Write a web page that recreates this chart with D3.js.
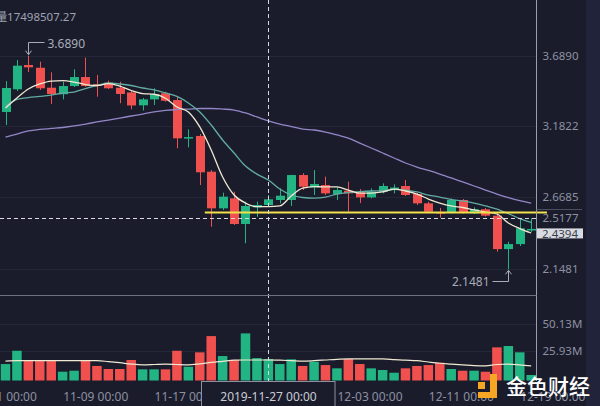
<!DOCTYPE html>
<html>
<head>
<meta charset="utf-8">
<script src="https://cdn.jsdelivr.net/npm/d3@7"></script>
<style>
  html, body { margin: 0; padding: 0; background: #1a1c2b; }
  svg { display: block; font-family: "Noto Sans", "Open Sans", sans-serif; }
</style>
</head>
<body>
<svg id="chart"></svg>
<script>
const width = 600
const height = 406

// daily candles, 2019-11-04 .. 2019-12-20
const dates = [
  '2019-11-04', '2019-11-05', '2019-11-06', '2019-11-07', '2019-11-08', '2019-11-09', '2019-11-10',
  '2019-11-11', '2019-11-12', '2019-11-13', '2019-11-14', '2019-11-15', '2019-11-16', '2019-11-17',
  '2019-11-18', '2019-11-19', '2019-11-20', '2019-11-21', '2019-11-22', '2019-11-23', '2019-11-24',
  '2019-11-25', '2019-11-26', '2019-11-27', '2019-11-28', '2019-11-29', '2019-11-30', '2019-12-01',
  '2019-12-02', '2019-12-03', '2019-12-04', '2019-12-05', '2019-12-06', '2019-12-07', '2019-12-08',
  '2019-12-09', '2019-12-10', '2019-12-11', '2019-12-12', '2019-12-13', '2019-12-14', '2019-12-15',
  '2019-12-16', '2019-12-17', '2019-12-18', '2019-12-19', '2019-12-20',
]
const open = [
  3.283, 3.447, 3.622, 3.602, 3.458, 3.411, 3.470, 3.535, 3.483, 3.494,
  3.458, 3.424, 3.331, 3.374, 3.418, 3.369, 3.092, 3.110, 2.852, 2.588,
  2.660, 2.475, 2.595, 2.612, 2.648, 2.648, 2.828, 2.740, 2.756, 2.691,
  2.715, 2.703, 2.667, 2.708, 2.729, 2.749, 2.691, 2.624, 2.561, 2.559,
  2.648, 2.552, 2.581, 2.535, 2.294, 2.330, 2.428,
]
const high = [
  3.506, 3.658, 3.689, 3.646, 3.569, 3.501, 3.591, 3.675, 3.550, 3.509,
  3.501, 3.442, 3.384, 3.454, 3.429, 3.393, 3.158, 3.124, 2.864, 2.701,
  2.708, 2.636, 2.636, 2.684, 2.732, 2.830, 2.841, 2.864, 2.816, 2.739,
  2.780, 2.727, 2.732, 2.768, 2.761, 2.792, 2.698, 2.636, 2.590, 2.659,
  2.655, 2.595, 2.590, 2.552, 2.347, 2.516, 2.516,
]
const low = [
  3.189, 3.434, 3.571, 3.442, 3.341, 3.374, 3.463, 3.465, 3.393, 3.449,
  3.346, 3.302, 3.294, 3.333, 3.357, 3.021, 3.028, 2.756, 2.455, 2.576,
  2.468, 2.336, 2.527, 2.601, 2.624, 2.605, 2.720, 2.684, 2.684, 2.648,
  2.564, 2.626, 2.660, 2.696, 2.696, 2.677, 2.612, 2.556, 2.520, 2.551,
  2.551, 2.547, 2.529, 2.275, 2.1481, 2.316, 2.417,
]
const close = [
  3.456, 3.617, 3.605, 3.454, 3.413, 3.470, 3.535, 3.470, 3.473, 3.454,
  3.413, 3.330, 3.374, 3.411, 3.364, 3.093, 3.102, 2.848, 2.588, 2.672,
  2.475, 2.605, 2.612, 2.653, 2.679, 2.828, 2.744, 2.763, 2.696, 2.720,
  2.696, 2.667, 2.708, 2.749, 2.738, 2.684, 2.624, 2.564, 2.554, 2.648,
  2.559, 2.581, 2.535, 2.294, 2.330, 2.444, 2.4394,
]
// volume in millions
const volume = [
  14.6, 26.4, 17.3, 18.2, 18.2, 7.8, 8.7, 17.3, 12.9, 10.2,
  10.2, 18.2, 9.9, 9.9, 9.9, 26.4, 12.2, 25.0, 39.4, 21.7,
  18.2, 41.8, 19.9, 19.1, 14.6, 18.8, 12.9, 16.7, 13.7, 10.8,
  19.1, 14.6, 10.8, 9.3, 6.9, 10.8, 12.9, 13.7, 15.8, 10.2,
  8.7, 8.7, 7.8, 29.4, 30.6, 25.0, 4.9,
]
// moving averages
const ma5 = [
  3.312, 3.384, 3.449, 3.485, 3.506, 3.509, 3.499, 3.481, 3.474, 3.488,
  3.470, 3.438, 3.416, 3.411, 3.382, 3.319, 3.283, 3.175, 3.009, 2.814,
  2.684, 2.626, 2.600, 2.600, 2.605, 2.677, 2.734, 2.745, 2.742, 2.742,
  2.720, 2.698, 2.698, 2.706, 2.727, 2.713, 2.691, 2.655, 2.626, 2.605,
  2.594, 2.576, 2.561, 2.547, 2.482, 2.442, 2.410,
]
const ma10 = [
  3.326, 3.373, 3.387, 3.395, 3.405, 3.420, 3.427, 3.452, 3.474, 3.492,
  3.485, 3.474, 3.456, 3.442, 3.420, 3.395, 3.348, 3.283, 3.189, 3.081,
  2.987, 2.893, 2.835, 2.792, 2.727, 2.684, 2.666, 2.662, 2.669, 2.691,
  2.702, 2.708, 2.713, 2.716, 2.724, 2.720, 2.706, 2.684, 2.669, 2.651,
  2.641, 2.626, 2.605, 2.583, 2.550, 2.514, 2.486,
]
const ma30 = [
  3.102, 3.124, 3.146, 3.157, 3.164, 3.171, 3.182, 3.196, 3.211, 3.225,
  3.239, 3.254, 3.268, 3.283, 3.294, 3.301, 3.304, 3.308, 3.308, 3.304,
  3.297, 3.276, 3.247, 3.218, 3.196, 3.178, 3.160, 3.153, 3.138, 3.117,
  3.095, 3.059, 3.023, 2.987, 2.951, 2.915, 2.886, 2.861, 2.835, 2.807,
  2.778, 2.749, 2.720, 2.691, 2.666, 2.644, 2.626,
]
const volMa = [
  17.2, 17.6, 17.6, 17.6, 17.6, 17.6, 17.6, 17.6, 17.6, 16.8,
  15.8, 14.6, 13.9, 14.2, 14.6, 14.2, 13.9, 14.8, 16.0, 17.0,
  18.0, 18.2, 18.2, 18.2, 18.0, 17.6, 17.2, 17.6, 18.2, 18.8,
  19.1, 19.1, 19.1, 19.1, 18.6, 18.0, 17.6, 16.4, 15.3, 14.6,
  13.9, 13.2, 12.9, 14.2, 14.6, 13.9, 12.9,
]

const priceTicks = [3.689, 3.1822, 2.6685, 2.1481]
const volTicks = [50.13, 25.93]
// 11-25 sits under the crosshair date tag, so it is not drawn
const dateTicks = ['2019-11-01', '2019-11-09', '2019-11-17', '2019-12-03', '2019-12-11', '2019-12-19']
const crossDate = '2019-11-27'
const crossPrice = 2.5177
const lastPrice = 2.4394
const yellowLevel = 2.558
const yellowFrom = '2019-11-21'
const maxMark = { date: '2019-11-06', value: 3.689 }
const minMark = { date: '2019-12-18', value: 2.1481 }
const headText = '量17498507.27'

const colors = {
  bg: '#1a1c2b',
  up: '#22b583',
  down: '#f0514f',
  ma5: '#efe9d2',
  ma10: '#62aca3',
  ma30: '#9386c6',
  text: '#8d91a2',
  grid: '#242737',
  border: '#6d7182',
}
const fontSize = 11.5

const parse = d3.timeParse('%Y-%m-%d')
const fmtDay = d3.timeFormat('%m-%d 00:00')
const fmtFull = d3.timeFormat('%Y-%m-%d 00:00')

const rows = dates.map((d, i) => ({
  date: parse(d), o: open[i], h: high[i], l: low[i], c: close[i],
  v: volume[i], ma5: ma5[i], ma10: ma10[i], ma30: ma30[i], vma: volMa[i],
}))

const plotRight = 536.5
const x = d3.scaleTime()
  .domain([parse(dates[0]), parse(dates[dates.length - 1])])
  .range([5.5, 531.2])
const y = d3.scaleLinear().domain([2.1481, 3.689]).range([269.3, 55.7])
const vy = d3.scaleLinear().domain([0, 50.13]).range([380.5, 324])
const bodyW = 9

const svg = d3.select('#chart').attr('width', width).attr('height', height)

svg.append('rect').attr('width', width).attr('height', height).attr('fill', colors.bg)
svg.append('rect').attr('x', 586).attr('width', 14).attr('height', height).attr('fill', '#20233a')

// grid lines
svg.append('g').selectAll('line')
  .data(priceTicks)
  .join('line')
  .attr('x1', 0).attr('x2', plotRight)
  .attr('y1', d => Math.round(y(d)) + 0.5).attr('y2', d => Math.round(y(d)) + 0.5)
  .attr('stroke', colors.grid)
svg.append('g').selectAll('line')
  .data(volTicks)
  .join('line')
  .attr('x1', 0).attr('x2', plotRight)
  .attr('y1', d => Math.round(vy(d)) + 0.5).attr('y2', d => Math.round(vy(d)) + 0.5)
  .attr('stroke', colors.grid)

// volume bars
svg.append('g').selectAll('rect')
  .data(rows)
  .join('rect')
  .attr('x', d => x(d.date) - 4.75)
  .attr('width', 9.5)
  .attr('y', d => vy(d.v))
  .attr('height', d => vy(0) - vy(d.v))
  .attr('fill', d => (d.c >= d.o ? colors.up : colors.down))

svg.append('path')
  .datum(rows)
  .attr('fill', 'none')
  .attr('stroke', colors.ma5)
  .attr('stroke-width', 1.2)
  .attr('d', d3.line().x(d => x(d.date)).y(d => vy(d.vma)).curve(d3.curveMonotoneX))

// candles
const candles = svg.append('g').selectAll('g')
  .data(rows)
  .join('g')
  .attr('transform', d => `translate(${Math.round(x(d.date)) + 0.5},0)`)

candles.append('line')
  .attr('y1', d => y(d.h)).attr('y2', d => y(d.l))
  .attr('stroke', d => (d.c >= d.o ? colors.up : colors.down))

candles.append('rect')
  .attr('x', -bodyW / 2)
  .attr('width', bodyW)
  .attr('y', d => y(Math.max(d.o, d.c)))
  .attr('height', d => Math.max(1.5, Math.abs(y(d.o) - y(d.c))))
  .attr('fill', d => (d.c >= d.o ? colors.up : colors.down))

// moving averages
const maLine = key => d3.line().x(d => x(d.date)).y(d => y(d[key])).curve(d3.curveMonotoneX)
;[['ma30', colors.ma30], ['ma10', colors.ma10], ['ma5', colors.ma5]].forEach(([key, col]) => {
  svg.append('path')
    .datum(rows)
    .attr('fill', 'none')
    .attr('stroke', col)
    .attr('stroke-width', 1.3)
    .attr('d', maLine(key))
})

// yellow horizontal level
svg.append('line')
  .attr('x1', x(parse(yellowFrom)) + 5).attr('x2', 547)
  .attr('y1', y(yellowLevel)).attr('y2', y(yellowLevel))
  .attr('stroke', '#f2e04a').attr('stroke-width', 2)

// crosshair
const cx = Math.round(x(parse(crossDate))) + 0.5
svg.append('line')
  .attr('x1', cx).attr('x2', cx).attr('y1', 0).attr('y2', 381)
  .attr('stroke', '#d8d8de').attr('stroke-dasharray', '4,3')
svg.append('line')
  .attr('x1', 0).attr('x2', plotRight)
  .attr('y1', Math.round(y(crossPrice)) + 0.5).attr('y2', Math.round(y(crossPrice)) + 0.5)
  .attr('stroke', '#d8d8de').attr('stroke-dasharray', '4,3')

// panel borders
svg.append('line')
  .attr('x1', plotRight).attr('x2', plotRight).attr('y1', 0).attr('y2', 381)
  .attr('stroke', '#9a9eae')
svg.append('line')
  .attr('x1', 0).attr('x2', plotRight).attr('y1', 295.5).attr('y2', 295.5)
  .attr('stroke', colors.border)
svg.append('line')
  .attr('x1', plotRight).attr('x2', 582).attr('y1', 209.5).attr('y2', 209.5)
  .attr('stroke', '#4a4e60')

// right axes
const priceAxis = svg.append('g')
  .attr('transform', `translate(${plotRight},0)`)
  .call(d3.axisRight(y).tickValues([...priceTicks, crossPrice]).tickSize(0).tickPadding(6)
    .tickFormat(d3.format('.4f')))
const volAxis = svg.append('g')
  .attr('transform', `translate(${plotRight},0)`)
  .call(d3.axisRight(vy).tickValues(volTicks).tickSize(0).tickPadding(6)
    .tickFormat(d => d3.format('.2f')(d) + 'M'))
;[priceAxis, volAxis].forEach(g => {
  g.select('.domain').remove()
  g.selectAll('text').attr('fill', colors.text).attr('font-size', fontSize)
    .attr('font-family', '"Noto Sans", sans-serif')
})

// last price tag
svg.append('rect')
  .attr('x', 537).attr('y', y(lastPrice) - 0.5).attr('width', 46).attr('height', 10)
  .attr('fill', '#d9dbe2')
svg.append('text')
  .attr('x', 542).attr('y', y(lastPrice) + 9)
  .attr('font-size', fontSize).attr('fill', '#3a3d4a')
  .text(lastPrice.toFixed(4))

// time axis
const timeAxis = svg.append('g')
  .attr('transform', 'translate(0,383)')
  .call(d3.axisBottom(x).tickValues(dateTicks.map(parse)).tickSize(0).tickPadding(9)
    .tickFormat(fmtDay))
timeAxis.select('.domain').remove()
timeAxis.selectAll('text')
  .attr('fill', colors.text).attr('font-size', 12).attr('text-anchor', 'start')
  .attr('font-family', '"Noto Sans", sans-serif')

// crosshair date tag
svg.append('rect')
  .attr('x', 201.5).attr('y', 381.5).attr('width', 133.5).attr('height', 30)
  .attr('fill', colors.bg).attr('stroke', '#8d91a2')
svg.append('text')
  .attr('x', cx).attr('y', 401).attr('text-anchor', 'middle')
  .attr('font-size', 12).attr('fill', '#c9ccd6')
  .text(fmtFull(parse(crossDate)))

// high / low markers
const markColor = '#a8acb8'
const hx = Math.round(x(parse(maxMark.date))) + 0.5
svg.append('path')
  .attr('d', `M${hx + 16},42.5H${hx}V${y(maxMark.value) - 1}M${hx - 3},${y(maxMark.value) - 5}L${hx},${y(maxMark.value) - 1}L${hx + 3},${y(maxMark.value) - 5}`)
  .attr('fill', 'none').attr('stroke', markColor)
svg.append('text')
  .attr('x', hx + 19).attr('y', 47.5).attr('font-size', 12).attr('fill', markColor)
  .text(maxMark.value.toFixed(4))

const lx = Math.round(x(parse(minMark.date))) + 0.5
svg.append('path')
  .attr('d', `M${lx - 16},281.5H${lx}V${y(minMark.value) + 1}M${lx - 3},${y(minMark.value) + 5}L${lx},${y(minMark.value) + 1}L${lx + 3},${y(minMark.value) + 5}`)
  .attr('fill', 'none').attr('stroke', markColor)
svg.append('text')
  .attr('x', lx - 19).attr('y', 286).attr('text-anchor', 'end')
  .attr('font-size', 12).attr('fill', markColor)
  .text(minMark.value.toFixed(4))

// header volume text
svg.append('text')
  .attr('x', 76).attr('y', 20.5).attr('text-anchor', 'end')
  .attr('font-size', fontSize).attr('fill', '#9ea2b2')
  .attr('font-family', '"Noto Sans", "Noto Sans CJK SC", sans-serif')
  .text(headText)

// watermark logo
const logo = svg.append('g').attr('fill', '#f5a623')
logo.append('rect').attr('x', 490).attr('y', 374).attr('width', 7).attr('height', 24)
logo.append('rect').attr('x', 478).attr('y', 392).attr('width', 19).attr('height', 6)
logo.append('rect').attr('x', 478).attr('y', 382).attr('width', 7).attr('height', 7)
svg.append('text')
  .attr('x', 506).attr('y', 394)
  .attr('font-size', 21).attr('font-weight', 500).attr('fill', '#ffffff')
  .attr('font-family', '"Noto Sans CJK SC", sans-serif')
  .text('金色财经')
</script>
</body>
</html>
